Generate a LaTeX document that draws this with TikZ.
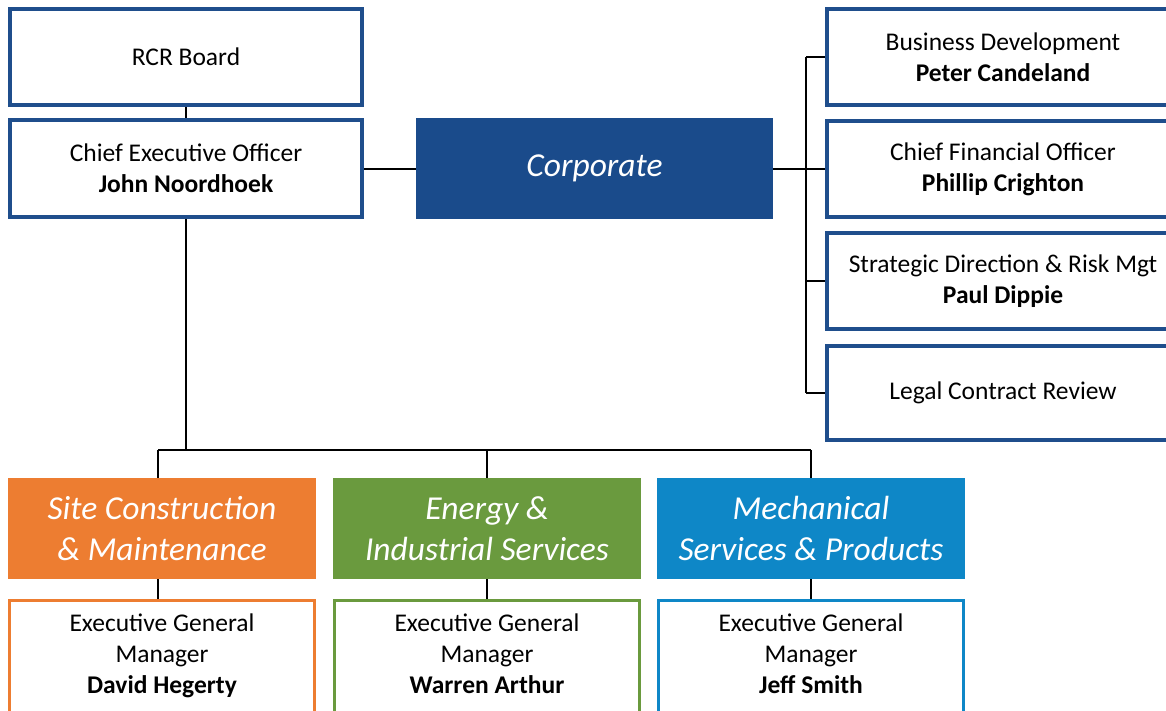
\documentclass[tikz,border=0pt]{standalone}
\usepackage{fontspec}
\setmainfont{Carlito}
\usetikzlibrary{backgrounds}
\definecolor{dblue}{HTML}{1F4E8C}
\definecolor{corpblue}{HTML}{1A4B8B}
\definecolor{orng}{HTML}{ED7D31}
\definecolor{grn}{HTML}{6A9A3E}
\definecolor{lblue}{HTML}{0E87C7}
\begin{document}
\begin{tikzpicture}[x=1pt,y=-1pt,
  lbox/.style={draw=dblue, line width=4pt, fill=white, inner sep=0pt, align=center,
    font=\fontsize{25.5}{31}\selectfont, minimum width=352pt, minimum height=96pt},
  hdr/.style={inner sep=0pt, text=white, align=center,
    font=\fontsize{33.5}{41}\selectfont\itshape, minimum width=308pt, minimum height=101pt},
  egm/.style={line width=3pt, fill=white, inner sep=0pt, align=center,
    font=\fontsize{25.5}{31}\selectfont, minimum width=305pt, minimum height=117pt},
  conn/.style={line width=2pt, black}]
\useasboundingbox (0,0) rectangle (1166,710);
\clip (0,0) rectangle (1166,710);

\node[lbox] (rcr) at (186,57) {RCR Board};
\node[lbox, minimum height=97pt] (ceo) at (186,168.5) {Chief Executive Officer\\\textbf{John Noordhoek}};
\node[hdr, fill=corpblue, minimum width=357pt] (corp) at (594.5,168.5) {Corporate};

\node[lbox] (bd) at (1003,57) {Business Development\\\textbf{Peter Candeland}};
\node[lbox] (cfo) at (1003,169) {Chief Financial Officer\\\textbf{Phillip Crighton}};
\node[lbox] (sd) at (1003,281) {Strategic Direction \& Risk Mgt\\\textbf{Paul Dippie}};
\node[lbox, minimum height=94pt] (legal) at (1003,393) {Legal Contract Review};

\node[hdr, fill=orng] (site) at (162,528.5) {Site Construction\\\& Maintenance};
\node[hdr, fill=grn] (energy) at (487,528.5) {Energy \&\\Industrial Services};
\node[hdr, fill=lblue] (mech) at (811,528.5) {Mechanical\\Services \& Products};

\node[egm, draw=orng] (egm1) at (162,658.5) {Executive General\\Manager\\\textbf{David Hegerty}\strut};
\node[egm, draw=grn] (egm2) at (487,658.5) {Executive General\\Manager\\\textbf{Warren Arthur}\strut};
\node[egm, draw=lblue] (egm3) at (811,658.5) {Executive General\\Manager\\\textbf{Jeff Smith}\strut};

\coordinate (rv) at (806,0);
\coordinate (bus) at (0,450);

\begin{scope}[on background layer]
  \draw[conn] (rcr.south) -- (ceo.north);
  \draw[conn] (ceo.east) -- (corp.west);
  \draw[conn] (corp.east) -- (corp.east -| rv);
  \draw[conn] (bd.west -| rv) -- (legal.west -| rv);
  \foreach \n in {bd,cfo,sd,legal} \draw[conn] (\n.west -| rv) -- (\n.west);
  \draw[conn] (ceo.south) -- (ceo.south |- bus);
  \draw[conn] ([xshift=-4pt]site.north |- bus) -- (mech.north |- bus);
  \draw[conn] ([xshift=-4pt]site.north |- bus) -- ([xshift=-4pt]site.north);
  \draw[conn] (energy.north |- bus) -- (energy.north);
  \draw[conn] (mech.north |- bus) -- (mech.north);
  \draw[conn] ([xshift=-4pt]site.south) -- ([xshift=-4pt]egm1.north);
  \draw[conn] (energy.south) -- (egm2.north);
  \draw[conn] (mech.south) -- (egm3.north);
\end{scope}
\end{tikzpicture}
\end{document}
